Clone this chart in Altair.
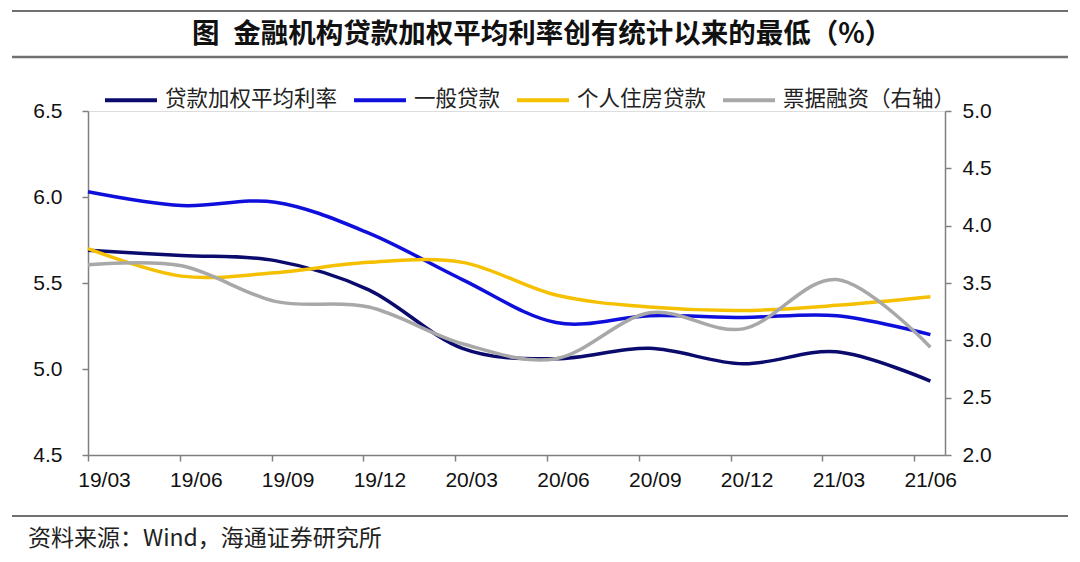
import altair as alt
import pandas as pd

quarters = ["19/03", "19/06", "19/09", "19/12", "20/03", "20/06", "20/09", "20/12", "21/03", "21/06"]
weighted = [5.69, 5.66, 5.63, 5.46, 5.12, 5.06, 5.12, 5.03, 5.10, 4.93]
general = [6.03, 5.95, 5.97, 5.79, 5.52, 5.27, 5.31, 5.30, 5.31, 5.20]
mortgage = [5.70, 5.54, 5.56, 5.62, 5.62, 5.43, 5.36, 5.34, 5.37, 5.42]
bill = [3.66, 3.65, 3.34, 3.29, 2.97, 2.84, 3.24, 3.10, 3.53, 2.94]

names = ["贷款加权平均利率", "一般贷款", "个人住房贷款", "票据融资（右轴）"]
colors = ["#0b0b6e", "#0f0fdc", "#f5c000", "#a8a8a8"]

title_text = "图\u2002金融机构贷款加权平均利率创有统计以来的最低（%）"
source_text = "资料来源：Wind，海通证券研究所"

rows = []
for name, vals in zip(names[:3], [weighted, general, mortgage]):
    for i, v in enumerate(vals):
        rows.append({"i": i, "v": v, "s": name, "o": names.index(name)})
left_df = pd.DataFrame(rows)
right_df = pd.DataFrame({"i": list(range(len(bill))), "v": bill, "s": names[3], "o": 3})

W, H = 857, 344
step = 0.9808
label_arr = "[" + ",".join("'%s'" % q for q in quarters) + "]"

axis_common = dict(
    domainColor="#808080", domainWidth=1.5, tickColor="#808080", tickWidth=1.5,
    tickSize=6, labelFont="Liberation Sans", labelFontSize=21, labelColor="#111",
    grid=False, title=None, labelFlush=False, labelOverlap=False,
)

x_enc = alt.X(
    "i:Q",
    scale=alt.Scale(domain=[0, 9.156], nice=False, zero=False),
    axis=alt.Axis(
        values=[k * step for k in range(len(quarters))],
        labelExpr=label_arr + "[round(datum.value/%s)]" % step,
        labelOffset=16, labelPadding=8, **axis_common,
    ),
)

color_enc = alt.Color(
    "s:N",
    scale=alt.Scale(domain=names, range=colors),
    sort=names,
    legend=alt.Legend(
        orient="none", legendX=15, legendY=-39, direction="horizontal", title=None,
        symbolType="stroke", symbolSize=2704, symbolStrokeWidth=4,
        labelFont="Noto Sans CJK SC", labelFontSize=21.5, labelColor="#222",
        labelOffset=6, columnPadding=8, padding=0, labelLimit=400,
    ),
)

left = alt.Chart(left_df).mark_line(
    interpolate="cardinal", tension=0, strokeWidth=3.5
).encode(
    x=x_enc,
    y=alt.Y(
        "v:Q",
        scale=alt.Scale(domain=[4.5, 6.5], nice=False, zero=False),
        axis=alt.Axis(values=[4.5, 5.0, 5.5, 6.0, 6.5], format=".1f", labelPadding=20, **axis_common),
    ),
    color=color_enc,
    detail="s:N",
    order="o:Q",
)

right = alt.Chart(right_df).mark_line(
    interpolate="cardinal", tension=0, strokeWidth=3.5
).encode(
    x=x_enc,
    y=alt.Y(
        "v:Q",
        scale=alt.Scale(domain=[2.0, 5.0], nice=False, zero=False),
        axis=alt.Axis(orient="right", values=[2.0, 2.5, 3.0, 3.5, 4.0, 4.5, 5.0], format=".1f",
                      labelPadding=11, **axis_common),
    ),
    color=color_enc,
)

one = pd.DataFrame({"t": [title_text]})
src = pd.DataFrame({"t": [source_text]})

title = alt.Chart(one).mark_text(
    font="Noto Sans CJK SC", fontSize=27.5, fontWeight="bold", color="#111",
    align="center", baseline="middle",
).encode(x=alt.value(454), y=alt.value(-76), text="t:N")

source = alt.Chart(src).mark_text(
    font="Noto Sans CJK SC", fontSize=23, color="#222", align="left", baseline="middle",
).encode(x=alt.value(-60), y=alt.value(428), text="t:N")

rule1 = alt.Chart(one).mark_rule(color="#707070", strokeWidth=2).encode(
    x=alt.value(-76), x2=alt.value(980), y=alt.value(-100))
rule2 = alt.Chart(one).mark_rule(color="#707070", strokeWidth=2.5).encode(
    x=alt.value(-76), x2=alt.value(980), y=alt.value(-54))
rule3 = alt.Chart(one).mark_rule(color="#707070", strokeWidth=2).encode(
    x=alt.value(-76), x2=alt.value(980), y=alt.value(405))

lines = alt.layer(left, right).resolve_scale(y="independent")

chart = alt.layer(lines, title, source, rule1, rule2, rule3).properties(
    width=W, height=H,
    autosize=alt.AutoSizeParams(type="none"),
    padding={"left": 80, "top": 103, "right": 127, "bottom": 97},
).configure_view(stroke=None).configure(background="white")

chart.save("out.html", embed_options={"renderer": "svg", "actions": False})
